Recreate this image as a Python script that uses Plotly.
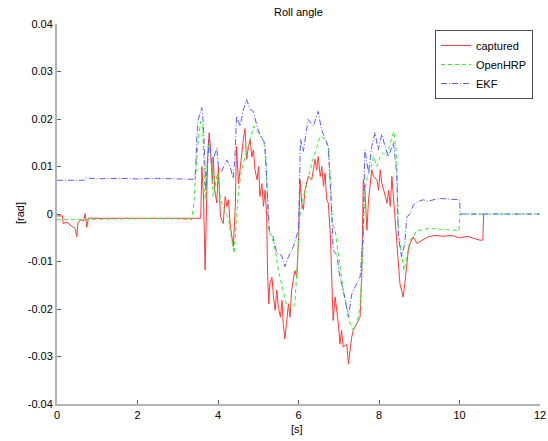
import plotly.graph_objects as go

# ---------------- data ----------------
t_captured = [0, 0.14, 0.15, 0.25, 0.35, 0.45, 0.49, 0.52, 0.60, 0.66,
              0.70, 0.74, 0.78, 1.5, 3.0, 3.57, 3.60, 3.64, 3.68, 3.70,
              3.74, 3.78, 3.81, 3.86, 3.88, 3.92, 3.97, 4.01, 4.06, 4.13,
              4.18, 4.22, 4.26, 4.30, 4.34, 4.38, 4.43, 4.46, 4.51, 4.55,
              4.63, 4.67, 4.71, 4.76, 4.80, 4.84, 4.88, 4.92, 4.97, 5.01,
              5.04, 5.09, 5.13, 5.17, 5.21, 5.23, 5.26, 5.29, 5.34, 5.38,
              5.42, 5.46, 5.50, 5.55, 5.59, 5.62, 5.66, 5.71, 5.75, 5.79,
              5.83, 5.91, 5.96, 6.00, 6.04, 6.08, 6.12, 6.16, 6.24, 6.33,
              6.37, 6.41, 6.45, 6.49, 6.54, 6.58, 6.62, 6.66, 6.70, 6.74,
              6.79, 6.81, 6.84, 6.86, 6.91, 6.99, 7.03, 7.07, 7.11, 7.20,
              7.24, 7.28, 7.32, 7.36, 7.45, 7.53, 7.57, 7.61, 7.65, 7.70,
              7.74, 7.78, 7.82, 7.86, 7.95, 7.99, 8.03, 8.07, 8.20, 8.24,
              8.28, 8.32, 8.40, 8.44, 8.48, 8.52, 8.56, 8.60, 8.64, 8.69,
              8.73, 8.77, 8.85, 8.94, 9.10, 9.22, 9.40, 9.60, 9.80, 10.00,
              10.20, 10.40, 10.50, 10.58, 10.60]
y_captured = [-0.0004, -0.0004, -0.0020, -0.0017, -0.0025, -0.0030, -0.0048, -0.0018, -0.0012, -0.0015,
              0.0001, -0.0028, -0.0009, -0.0009, -0.0009, -0.0009, 0.0100, 0.0034, -0.0118, -0.0055,
              0.0115, 0.0171, 0.0143, 0.0064, 0.0120, 0.0050, 0.0023, 0.0100, -0.0006, -0.0020,
              0.0037, 0.0016, 0.0030, -0.0020, -0.0041, -0.0069, 0.0016, 0.0142, 0.0064, 0.0100,
              0.0157, 0.0180, 0.0115, 0.0143, 0.0157, 0.0120, 0.0135, 0.0093, 0.0072, 0.0100,
              0.0037, 0.0064, 0.0016, 0.0050, -0.0006, -0.0118, -0.0189, -0.0147, -0.0133, -0.0175,
              -0.0203, -0.0160, -0.0196, -0.0217, -0.0182, -0.0231, -0.0263, -0.0224, -0.0189, -0.0217,
              -0.0160, -0.0119, -0.0133, -0.0050, 0.0072, 0.0023, 0.0009, 0.0050, 0.0079, 0.0072,
              0.0100, 0.0115, 0.0093, 0.0121, 0.0079, 0.0100, 0.0058, 0.0086, 0.0030, 0.0023,
              -0.0041, -0.0097, -0.0180, -0.0224, -0.0175, -0.0231, -0.0274, -0.0245, -0.0280, -0.0274,
              -0.0316, -0.0280, -0.0260, -0.0245, -0.0231, -0.0217, -0.0133, 0.0072, 0.0050, -0.0034,
              0.0030, 0.0065, 0.0093, 0.0079, 0.0072, 0.0050, 0.0093, 0.0065, 0.0023, 0.0050,
              0.0016, 0.0079, -0.0005, -0.0055, -0.0104, -0.0147, -0.0160, -0.0175, -0.0147, -0.0110,
              -0.0076, -0.0062, -0.0048, -0.0062, -0.0055, -0.0048, -0.0045, -0.0047, -0.0045, -0.0050,
              -0.0047, -0.0052, -0.0055, -0.0055, 0.0000]

t_openhrp = [0, 0.5, 1.0, 2.0, 3.0, 3.35, 3.40, 3.45, 3.51, 3.57,
             3.62, 3.68, 3.76, 3.84, 3.88, 3.99, 4.06, 4.13, 4.26, 4.34,
             4.40, 4.45, 4.51, 4.59, 4.68, 4.80, 4.89, 5.00, 5.13, 5.19,
             5.22, 5.25, 5.34, 5.42, 5.50, 5.62, 5.70, 5.83, 5.91, 5.97,
             6.03, 6.10, 6.20, 6.33, 6.45, 6.54, 6.66, 6.74, 6.81, 6.84,
             6.91, 6.97, 7.03, 7.11, 7.20, 7.28, 7.36, 7.45, 7.53, 7.60,
             7.65, 7.71, 7.79, 7.86, 7.95, 8.03, 8.11, 8.20, 8.28, 8.37,
             8.44, 8.48, 8.56, 8.62, 8.69, 8.77, 8.85, 8.94, 9.10, 9.22,
             9.50, 9.80, 9.99, 10.01, 11.0, 12.0]
y_openhrp = [-0.0012, -0.0012, -0.0011, -0.0010, -0.0010, -0.0012, 0.0023, 0.0087, 0.0157, 0.0195,
             0.0180, 0.0030, 0.0150, 0.0115, 0.0037, 0.0087, 0.0031, 0.0016, -0.0009, -0.0055,
             -0.0083, -0.0020, 0.0050, 0.0094, 0.0122, 0.0157, 0.0185, 0.0171, 0.0157, 0.0122,
             0.0051, -0.0034, -0.0048, -0.0076, -0.0119, -0.0161, -0.0190, -0.0200, -0.0190, -0.0104,
             -0.0006, 0.0030, 0.0060, 0.0107, 0.0142, 0.0164, 0.0157, 0.0142, 0.0050, -0.0020,
             -0.0034, -0.0069, -0.0110, -0.0160, -0.0196, -0.0230, -0.0245, -0.0230, -0.0196, -0.0080,
             0.0051, 0.0079, 0.0094, 0.0121, 0.0100, 0.0121, 0.0129, 0.0122, 0.0150, 0.0174,
             0.0122, -0.0034, -0.0083, -0.0119, -0.0090, -0.0055, -0.0048, -0.0034, -0.0034, -0.0030,
             -0.0032, -0.0033, -0.0035, 0.0000, 0.0000, 0.0000]

t_ekf = [0, 0.68, 0.72, 1.0, 1.5, 2.0, 2.5, 3.0, 3.42, 3.45,
         3.47, 3.51, 3.595, 3.635, 3.70, 3.78, 3.84, 3.90, 3.97, 4.01,
         4.09, 4.22, 4.30, 4.38, 4.42, 4.46, 4.55, 4.63, 4.71, 4.80,
         4.88, 4.98, 5.08, 5.16, 5.22, 5.28, 5.37, 5.46, 5.58, 5.66,
         5.75, 5.87, 6.00, 6.05, 6.12, 6.24, 6.37, 6.49, 6.57, 6.65,
         6.74, 6.83, 6.86, 6.95, 7.03, 7.11, 7.24, 7.32, 7.40, 7.53,
         7.60, 7.65, 7.74, 7.82, 7.90, 7.98, 8.07, 8.15, 8.23, 8.36,
         8.44, 8.48, 8.56, 8.64, 8.69, 8.77, 8.85, 8.97, 9.10, 9.22,
         9.50, 9.80, 10.00, 10.02, 11.0, 12.0]
y_ekf = [0.0071, 0.0071, 0.0076, 0.0074, 0.0075, 0.0074, 0.0075, 0.0074, 0.0073, 0.0100,
         0.0157, 0.0199, 0.0224, 0.0192, 0.0051, 0.0157, 0.0108, 0.0120, 0.0139, 0.0100,
         0.0090, 0.0114, 0.0100, 0.0075, 0.0120, 0.0206, 0.0185, 0.0220, 0.0241, 0.0220,
         0.0216, 0.0181, 0.0160, 0.0150, 0.0050, -0.0040, -0.0048, -0.0083, -0.0087, -0.0111,
         -0.0090, -0.0069, -0.0034, 0.0157, 0.0132, 0.0199, 0.0185, 0.0216, 0.0178, 0.0160,
         0.0142, -0.0006, -0.0076, -0.0086, -0.0133, -0.0160, -0.0217, -0.0170, -0.0154, -0.0133,
         -0.0055, 0.0135, 0.0087, 0.0142, 0.0171, 0.0135, 0.0168, 0.0142, 0.0121, 0.0150,
         0.0087, -0.0048, -0.0090, -0.0062, -0.0006, 0.0000, 0.0019, 0.0026, 0.0030, 0.0027,
         0.0033, 0.0031, 0.0030, 0.0000, 0.0000, 0.0000]

x_ticks = [0, 2, 4, 6, 8, 10, 12]
y_ticks = [0.04, 0.03, 0.02, 0.01, 0, -0.01, -0.02, -0.03, -0.04]
y_tick_labels = ["0.04", "0.03", "0.02", "0.01", "0", "-0.01", "-0.02", "-0.03", "-0.04"]

# ---------------- figure ----------------
FONT = "Liberation Sans, Arial, Helvetica, sans-serif"
AXIS_GREY = "#b4b4b4"
W, H = 548, 441
L, R, T, B = 57, 8, 24, 37
plot_w = W - L - R
plot_h = H - T - B


def px_to_paper(px_x, px_y):
    """pixel position (from top-left of the figure) -> paper coordinates"""
    return (px_x - L) / plot_w, (H - px_y - B) / plot_h


fig = go.Figure()
fig.add_trace(go.Scatter(x=t_captured, y=y_captured, mode="lines", name="captured",
                         line=dict(color="#ff3a3a", width=1)))
fig.add_trace(go.Scatter(x=t_openhrp, y=y_openhrp, mode="lines", name="OpenHRP",
                         line=dict(color="#30f030", width=1, dash="4px,3px")))
fig.add_trace(go.Scatter(x=t_ekf, y=y_ekf, mode="lines", name="EKF",
                         line=dict(color="#5a5aff", width=1, dash="6px,2px,1px,2px")))

title_x, title_y = px_to_paper(298, 12)
xlab_x, xlab_y = px_to_paper(297, 429)
ylab_x, ylab_y = px_to_paper(20, 213)
leg_x, leg_y = px_to_paper(435, 30)

fig.update_layout(
    width=W, height=H,
    margin=dict(l=L, r=R, t=T, b=B, autoexpand=False),
    paper_bgcolor="white", plot_bgcolor="white",
    font=dict(family=FONT, size=11, color="black"),
    showlegend=True,
    legend=dict(x=leg_x, y=leg_y, xanchor="left", yanchor="top",
                bordercolor="#505050", borderwidth=1, bgcolor="white",
                font=dict(size=11), tracegroupgap=0, itemwidth=30),
    xaxis=dict(range=[0, 12], tickvals=x_ticks, ticks="inside", ticklen=4,
               tickcolor="#606060", showline=True, linecolor=AXIS_GREY, linewidth=2,
               showgrid=False, zeroline=False, automargin=False,
               tickfont=dict(size=11)),
    yaxis=dict(range=[-0.04, 0.04], tickvals=y_ticks, ticktext=y_tick_labels,
               ticks="inside", ticklen=4, tickcolor="#606060", showline=True,
               linecolor=AXIS_GREY, linewidth=2, showgrid=False, zeroline=False,
               automargin=False, tickfont=dict(size=11)),
    annotations=[
        dict(text="Roll angle", x=title_x, y=title_y, xref="paper", yref="paper",
             showarrow=False, font=dict(size=11), xanchor="center", yanchor="middle"),
        dict(text="[s]", x=xlab_x, y=xlab_y, xref="paper", yref="paper", showarrow=False,
             font=dict(size=11), xanchor="center", yanchor="middle"),
        dict(text="[rad]", x=ylab_x, y=ylab_y, xref="paper", yref="paper", showarrow=False,
             textangle=-90, font=dict(size=11), xanchor="center", yanchor="middle"),
    ],
)

fig.write_html("out.html",
               config={"displayModeBar": False},
               post_script="document.body.style.margin='0px';"
                           "document.body.style.overflow='hidden';")
